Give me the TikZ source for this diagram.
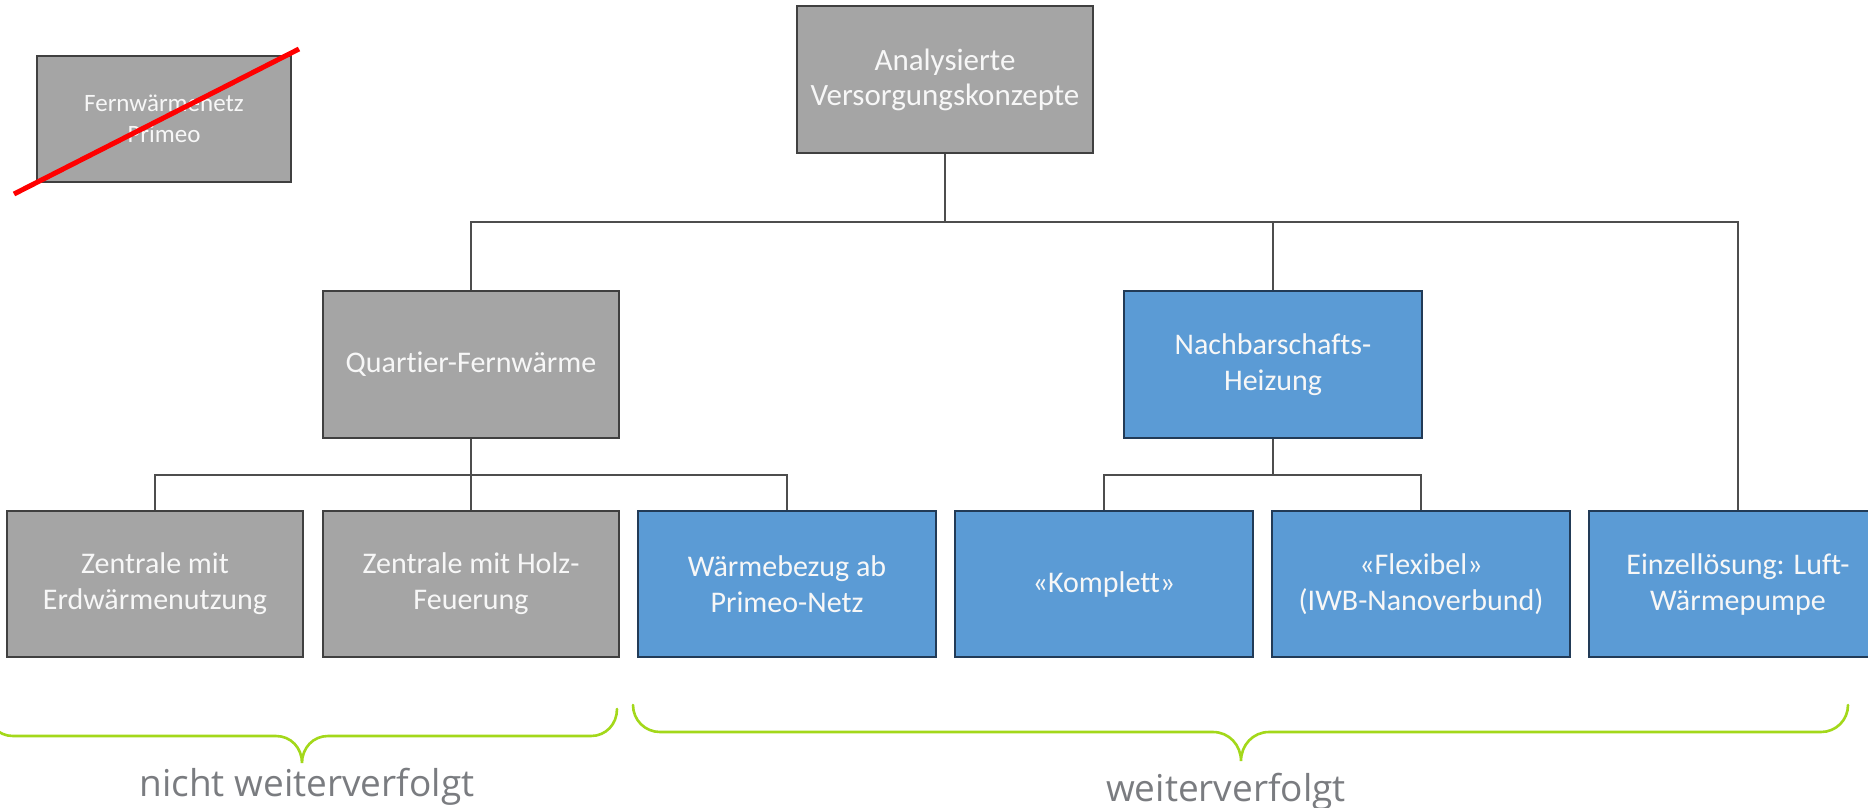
\documentclass[tikz,border=0pt]{standalone}
\usepackage{fontspec}
\setmainfont{Carlito}[Ligatures=NoCommon]
\newfontfamily\labelfont{Open Sans}
\definecolor{boxgray}{HTML}{A5A5A5}
\definecolor{boxgrayline}{HTML}{404040}
\definecolor{boxblue}{HTML}{5B9BD5}
\definecolor{boxblueline}{HTML}{223B57}
\definecolor{conn}{HTML}{4D4D4D}
\definecolor{bracegreen}{HTML}{A3D81A}
\definecolor{labelgray}{HTML}{7A7C80}
\definecolor{boxtext}{HTML}{F7F7F7}
\tikzset{
  base/.style={rectangle, line width=2pt, text=boxtext, align=center,
    inner sep=0pt, font=\fontsize{30}{36}\selectfont},
  graybox/.style={base, fill=boxgray, draw=boxgrayline},
  bluebox/.style={base, fill=boxblue, draw=boxblueline},
  connector/.style={draw=conn, line width=1.8pt},
  bracepath/.style={draw=bracegreen, line width=2.6pt, line cap=round},
  bracelabel/.style={text=labelgray, anchor=base, font=\labelfont\fontsize{37}{44}\selectfont},
}
\begin{document}
\begin{tikzpicture}[x=1pt,y=-1pt]
\useasboundingbox (0,0) rectangle (1868,807);
\fill[white] (0,0) rectangle (1868,807);

% crossed-out box
\node[graybox, minimum width=254pt, minimum height=126pt,
  font=\fontsize{25}{31}\selectfont] (fw) at (164,119) {Fernwärmenetz\\Primeo};
\coordinate (rs) at (14,194);
\coordinate (re) at (299,49);
\draw[red, line width=5pt] (rs) -- (re);

% top
\node[graybox, minimum width=296pt, minimum height=147pt,
  font=\fontsize{31}{35}\selectfont] (top) at (945,79.5) {Analysierte\\Versorgungskonzepte};

% level 2
\node[graybox, minimum width=296pt, minimum height=147pt] (qf) at (471,364.5) {Quartier-Fernwärme};
\node[bluebox, minimum width=298pt, minimum height=147pt] (nh) at (1273,364.5) {Nachbarschafts-\\Heizung};

% level 3
\node[graybox, minimum width=296pt, minimum height=146pt] (b1) at (155,584) {Zentrale mit\\Erdwärmenutzung};
\node[graybox, minimum width=296pt, minimum height=146pt] (b2) at (471,584) {Zentrale mit Holz-\\Feuerung};
\node[bluebox, minimum width=298pt, minimum height=146pt] (b3) at (787,584) {Wärmebezug ab\\Primeo-Netz};
\node[bluebox, minimum width=298pt, minimum height=146pt] (b4) at (1104,584) {«Komplett»};
\node[bluebox, minimum width=298pt, minimum height=146pt] (b5) at (1421,584) {«Flexibel»\\(IWB-Nanoverbund)};
\node[bluebox, minimum width=298pt, minimum height=146pt] (b6) at (1738,584) {Einzellösung: Luft-\\Wärmepumpe};

% connectors
\coordinate (j1) at (945,222);
\coordinate (j2) at (471,475);
\coordinate (j3) at (1273,475);
\draw[connector] (top.south) -- (j1);
\draw[connector] (qf.north) |- (j1) -| (b6.north);
\draw[connector] (nh.north) -- (nh.north |- j1);
\draw[connector] (qf.south) -- (j2);
\draw[connector] (b1.north) |- (j2) -| (b3.north);
\draw[connector] (b2.north) -- (b2.north |- j2);
\draw[connector] (nh.south) -- (j3);
\draw[connector] (b4.north) |- (j3) -| (b5.north);

% braces
\draw[bracepath] (-13,709) .. controls (-13,724) and (-2,736) .. (13,736)
  -- (276,736) .. controls (291,736) and (302,748) .. (302,763)
  .. controls (302,748) and (313,736) .. (328,736)
  -- (591,736) .. controls (606,736) and (617,724) .. (617,709);
\draw[bracepath] (633,705) .. controls (633,720) and (645,732) .. (660,732)
  -- (1213,732) .. controls (1229,732) and (1241,745) .. (1241,761)
  .. controls (1241,745) and (1253,732) .. (1269,732)
  -- (1821,732) .. controls (1836,732) and (1848,720) .. (1848,705);

\node[bracelabel] (l1) at (307,796) {nicht weiterverfolgt};
\node[bracelabel] (l2) at (1226,801) {weiterverfolgt};
\end{tikzpicture}
\end{document}
